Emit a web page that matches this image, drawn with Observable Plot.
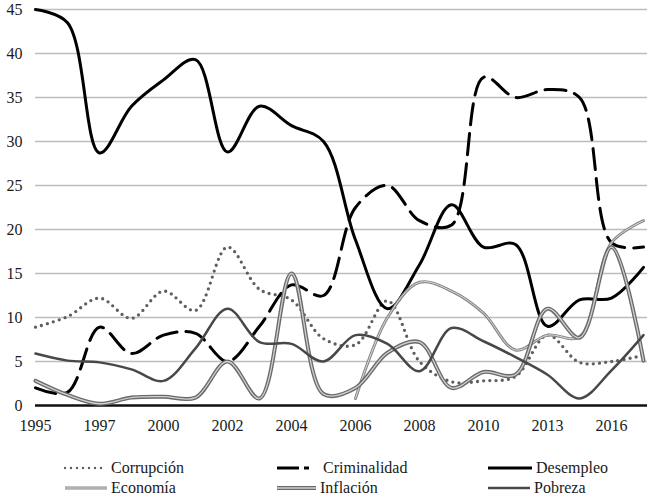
<!DOCTYPE html>
<html>
<head>
<meta charset="utf-8">
<script src="https://cdn.jsdelivr.net/npm/d3@7"></script>
<script src="https://cdn.jsdelivr.net/npm/@observablehq/plot@0.6"></script>
<style>
  html, body { margin: 0; padding: 0; background: #fff; }
  #wrap { position: relative; width: 650px; height: 502px; font-family: "Liberation Serif", "Times New Roman", serif; }
  #legend .item { position: absolute; display: flex; align-items: center; font-family: "Liberation Serif", serif; font-size: 16px; color: #1a1a1a; white-space: nowrap; }
  #legend svg { display: block; margin-right: 3px; }
</style>
</head>
<body>
<div id="wrap">
  <div id="chart"></div>
  <div id="legend"></div>
</div>
<script>
const years = ["1995","1996","1997","1998","2000","2001","2002","2003","2004","2005","2006","2007","2008","2009","2010","2011","2013","2015","2016","2017"];
const labeledYears = ["1995","1997","2000","2002","2004","2006","2008","2010","2013","2016"];
const yTicks = [0,5,10,15,20,25,30,35,40,45];

const corrupcion   = [8.9, 10.1, 12.2, 9.9, 13, 10.8, 18, 13.2, 12, 7.6, 6.9, 11.9, 5, 2.7, 2.8, 3.3, 8, 4.9, 5, 5.7];
const criminalidad = [2, 1.5, 8.9, 5.9, 8, 8.2, 5, 9, 13.7, 12.5, 22.5, 25, 21, 20.5, 37.3, 35, 35.9, 35, 18.5, 18];
const desempleo    = [45, 43.5, 28.7, 34, 37, 39.3, 28.8, 34, 31.8, 30, 18.8, 11, 16, 22.8, 18, 18.3, 9, 12, 12.2, 15.7];
const economia     = [null, null, null, null, null, null, null, null, null, null, 0.8, 10, 14, 13, 10.5, 6.3, 8, 7.8, 18.5, 21];
const inflacion    = [2.8, 1.2, 0.2, 0.9, 1, 0.9, 5, 0.8, 15, 1.3, 2, 6, 7.2, 2, 3.8, 3.5, 11, 7.7, 18, 5.1];
const pobreza      = [5.9, 5.1, 4.9, 4.1, 2.8, 6.5, 11, 7.2, 7, 5, 8, 7, 3.9, 8.8, 7.3, 5.5, 3.5, 0.8, 4, 8];

const tidy = arr => years.map((year, i) => ({year, v: arr[i]})).filter(d => d.v != null);
const curve = "catmull-rom";

const chart = Plot.plot({
  width: 650,
  height: 440,
  marginLeft: 35,
  marginRight: 3,
  marginTop: 9,
  marginBottom: 35,
  style: {fontFamily: "Liberation Serif, serif", fontSize: "16px", color: "#1a1a1a", background: "#fff"},
  x: {type: "point", domain: years, padding: 0, insetRight: 4},
  y: {domain: [0, 45]},
  marks: [
    Plot.ruleY(yTicks.filter(d => d > 0), {stroke: "#bdbdbd", strokeWidth: 1.6}),
    Plot.ruleY([0], {stroke: "#111", strokeWidth: 2.5}),
    Plot.line(tidy(corrupcion), {x: "year", y: "v", curve, stroke: "#5e5e5e", strokeWidth: 3.3, strokeDasharray: "0 6.2", strokeLinecap: "round"}),
    Plot.line(tidy(criminalidad), {x: "year", y: "v", curve, stroke: "#000", strokeWidth: 3, strokeDasharray: "21 9"}),
    Plot.line(tidy(desempleo), {x: "year", y: "v", curve, stroke: "#000", strokeWidth: 3}),
    Plot.line(tidy(economia), {x: "year", y: "v", curve, stroke: "#858585", strokeWidth: 3}),
    Plot.line(tidy(economia), {x: "year", y: "v", curve, stroke: "#dcdcdc", strokeWidth: 1}),
    Plot.line(tidy(inflacion), {x: "year", y: "v", curve, stroke: "#6a6a6a", strokeWidth: 4}),
    Plot.line(tidy(inflacion), {x: "year", y: "v", curve, stroke: "#d0d0d0", strokeWidth: 1.3}),
    Plot.line(tidy(pobreza), {x: "year", y: "v", curve, stroke: "#484848", strokeWidth: 2.5}),
    Plot.axisX({ticks: labeledYears, tickSize: 0, tickPadding: 13, dy: 1, label: null, fontSize: 16}),
    Plot.axisY({ticks: yTicks, tickSize: 0, tickPadding: 13, label: null, fontSize: 16})
  ]
});
document.getElementById("chart").appendChild(chart);

// Legend
const legendItems = [
  {name: "Corrupción",   x: 64,  y: 468, sw: 44, kind: "dot"},
  {name: "Criminalidad", x: 276, y: 468, sw: 44, kind: "dash"},
  {name: "Desempleo",    x: 487, y: 468, sw: 46, kind: "black"},
  {name: "Economía",     x: 64,  y: 488, sw: 44, kind: "econ"},
  {name: "Inflación",    x: 276, y: 488, sw: 41, kind: "infl"},
  {name: "Pobreza",      x: 487, y: 488, sw: 44, kind: "pob"}
];
const legend = document.getElementById("legend");
const ns = "http://www.w3.org/2000/svg";
for (const it of legendItems) {
  const div = document.createElement("div");
  div.className = "item";
  div.style.left = it.x + "px";
  div.style.top = (it.y - 10) + "px";
  div.style.height = "20px";
  const svg = document.createElementNS(ns, "svg");
  svg.setAttribute("width", it.sw);
  svg.setAttribute("height", 10);
  const addLine = (stroke, w, dash, cap) => {
    const l = document.createElementNS(ns, "line");
    l.setAttribute("x1", 1); l.setAttribute("x2", it.sw - 1);
    l.setAttribute("y1", 5); l.setAttribute("y2", 5);
    l.setAttribute("stroke", stroke); l.setAttribute("stroke-width", w);
    if (dash) l.setAttribute("stroke-dasharray", dash);
    if (cap) l.setAttribute("stroke-linecap", cap);
    svg.appendChild(l);
  };
  if (it.kind === "dot") addLine("#5e5e5e", 2.4, "0 6", "round");
  if (it.kind === "dash") addLine("#000", 3, "22 5 5 20");
  if (it.kind === "black") addLine("#000", 3);
  if (it.kind === "econ") { addLine("#858585", 3); addLine("#dcdcdc", 1); }
  if (it.kind === "infl") { addLine("#6a6a6a", 4); addLine("#d0d0d0", 1.3); }
  if (it.kind === "pob") addLine("#484848", 2.5);
  div.appendChild(svg);
  const span = document.createElement("span");
  span.textContent = it.name;
  div.appendChild(span);
  legend.appendChild(div);
}
</script>
</body>
</html>
